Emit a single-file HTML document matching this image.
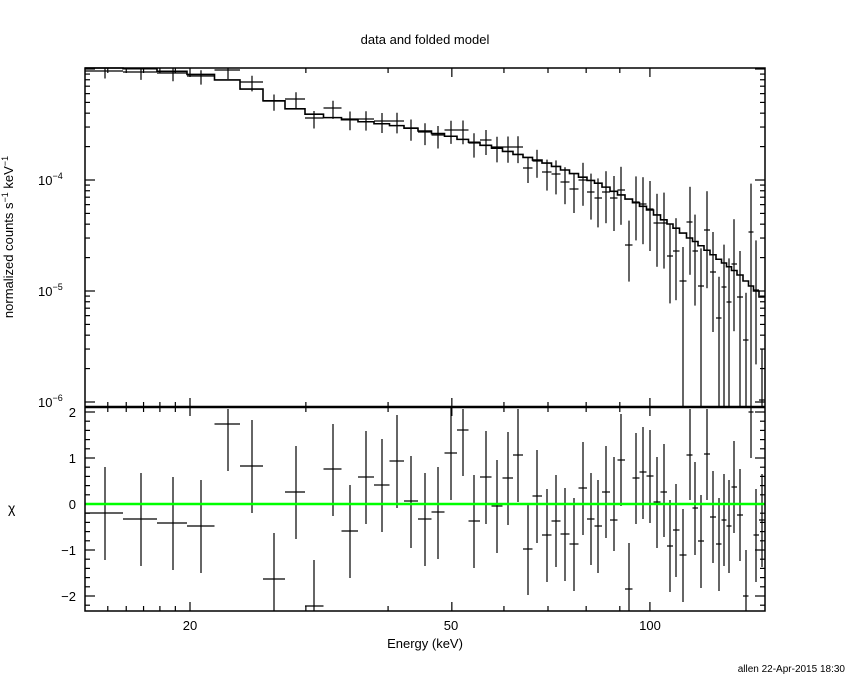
<!DOCTYPE html>
<html><head><meta charset="utf-8"><style>
html,body{margin:0;padding:0;background:#fff;}
svg{display:block;font-family:"Liberation Sans",sans-serif;}
</style></head><body>
<svg id="s" width="850" height="680" xmlns="http://www.w3.org/2000/svg">
<rect width="850" height="680" fill="#fff"/>
<text x="425" y="44" text-anchor="middle" font-size="13">data and folded model</text>
<text x="425" y="648" text-anchor="middle" font-size="13">Energy (keV)</text>
<text x="190" y="630" text-anchor="middle" font-size="13">20</text>
<text x="451" y="630" text-anchor="middle" font-size="13">50</text>
<text x="650" y="630" text-anchor="middle" font-size="13">100</text>
<text transform="translate(13,237) rotate(-90)" text-anchor="middle" font-size="13">normalized counts s<tspan dy="-5" font-size="9">−1</tspan><tspan dy="5"> keV</tspan><tspan dy="-5" font-size="9">−1</tspan></text>
<text x="8" y="513" font-size="14">χ</text>
<text x="38" y="185" font-size="13">10<tspan dy="-6" font-size="9">−4</tspan></text>
<text x="38" y="296" font-size="13">10<tspan dy="-6" font-size="9">−5</tspan></text>
<text x="38" y="407" font-size="13">10<tspan dy="-6" font-size="9">−6</tspan></text>
<g font-size="13" text-anchor="end">
<text x="76" y="417">2</text><text x="76" y="463">1</text><text x="76" y="509">0</text><text x="76" y="555">−1</text><text x="76" y="601">−2</text>
</g>
<text x="845" y="672" text-anchor="end" font-size="10">allen 22-Apr-2015 18:30</text>
<g id="g" stroke="#000" fill="none" stroke-width="1.2"></g>
</svg>
<script>
var g=document.getElementById('g'),NS='http://www.w3.org/2000/svg';
function L(x1,y1,x2,y2,c,w){var l=document.createElementNS(NS,'line');l.setAttribute('x1',x1);l.setAttribute('y1',y1);l.setAttribute('x2',x2);l.setAttribute('y2',y2);if(c)l.setAttribute('stroke',c);if(w)l.setAttribute('stroke-width',w);g.appendChild(l);}
var X0=85,X1=765,T0=68,T1=407,B1=611;
function xp(E){return 190+658*Math.log10(E/20);}
var Es=[15,16,17,18,19,20,30,40,50,60,70,80,90,100];
Es.forEach(function(E){var x=xp(E),m=(E==20||E==50||E==100)?9:5;
[[T0,1],[T1,-1],[T1,1],[B1,-1]].forEach(function(p){L(x,p[0],x,p[0]+p[1]*m);});});
function yp(v){return 180-111*(Math.log10(v)+4);}
for(var d=-6;d<=-3;d++)for(var k=1;k<10;k++){var y=yp(k*Math.pow(10,d));if(y<T0||y>T1)continue;var m=k==1?10:5;L(X0,y,X0+m,y);L(X1,y,X1-m,y);}
for(var v=-2.2;v<=2.1;v+=0.2){var vv=Math.round(v*10)/10;var y=504-46*vv;if(y<T1||y>B1)continue;var m=(Math.abs(vv-Math.round(vv))<0.01)?10:5;L(X0,y,X0+m,y);L(X1,y,X1-m,y);}
var R=[[105,513,467,560],[141,519,473,566],[173,523,477,570],[201,526,480,573],[228,424,409,471],[252,466,420,513],[274,579,533,611],[296,492,446,539],[314,606,560,611],[333,469,424,516],[350,531,485,578],[366,477,431,524],[382,485,439,532],[397,461,415,508],[411,501,456,548],[425,519,473,566],[438,512,467,559],[451,453,407,500],[463,430,409,476],[474,521,475,568],[486,477,431,524],[497,506,460,553],[508,478,432,525],[518,455,409,502],[528,549,503,595],[537,496,450,543],[547,535,489,582],[556,521,475,567],[565,534,488,581],[574,544,498,591],[583,488,442,535],[591,519,473,565],[598,526,480,573],[606,492,446,538],[614,520,457,551],[621,460,414,506],[629,589,543,611],[636,478,433,524],[643,472,427,519],[650,476,430,523],[657,502,457,548],[664,492,444,537],[670,546,500,592],[676,530,484,577],[683,555,509,602],[690,455,409,500],[695,508,462,555],[701,541,495,588],[707,454,409,500],[713,517,471,563],[719,544,498,591],[724,520,474,566],[729,526,480,573],[734,487,441,533],[740,515,469,561],[746,596,550,611],[751,412,407,458],[756,535,489,582],[762,520,474,567]];
var TY=[71,72,73,76,70,82,101,99,118,108,119,119,121,121,128,132,135,130,130,143,140,147,147,147,168,161,172,174,182,189,180,192,198,192,198,190,245,202,204,209,223,223,256,251,281,222,251,286,230,272,318,287,302,264,297,340,232,290,400];
var n=R.length,edges=[X0];
for(var i=0;i<n-1;i++)edges.push((R[i][0]+R[i+1][0])/2);edges.push(X1);
var MK=[[85,68],[130,68],[160,70],[190,73],[220,77],[250,88],[280,104],[320,116],[360,121],[400,126],[450,136],[500,149],[550,164],[600,184],[650,210],[700,245],[740,275],[765,300]];
function M(x){for(var i=0;i<MK.length-1;i++){if(x<=MK[i+1][0]){var t=(x-MK[i][0])/(MK[i+1][0]-MK[i][0]);return MK[i][1]+t*(MK[i+1][1]-MK[i][1]);}}return 300;}
var d='';
for(var i=0;i<n;i++){var ym=M(R[i][0]);d+=(i==0?'M':'L')+edges[i]+' '+ym+'L'+edges[i+1]+' '+ym;}
var p=document.createElementNS(NS,'path');p.setAttribute('d',d);p.setAttribute('stroke-width','1.6');g.appendChild(p);
var toBottom={44:1,47:1,50:1,51:1,52:1,54:1,56:1};
for(var i=0;i<n;i++){var x=R[i][0],y=TY[i],a=edges[i],b=edges[i+1];
 L(a,y,b,y);
 var e=i<24?(5+i*0.25):(10+(i-24)*1.2);
 var up=Math.max(T0,y-e),dn=toBottom[i]?T1:Math.min(T1,y+e*1.5);
 L(x,up,x,dn);
 L(a,R[i][1],b,R[i][1]);L(x,R[i][2],x,R[i][3]);}
L(X0,504,X1,504,'#00ff00',2.5);
var f=document.createElementNS(NS,'rect');f.setAttribute('x',X0);f.setAttribute('y',T0);f.setAttribute('width',X1-X0);f.setAttribute('height',B1-T0);f.setAttribute('stroke-width','1.5');g.appendChild(f);
L(X0,T1,X1,T1,null,2.5);
</script>
</body></html>
